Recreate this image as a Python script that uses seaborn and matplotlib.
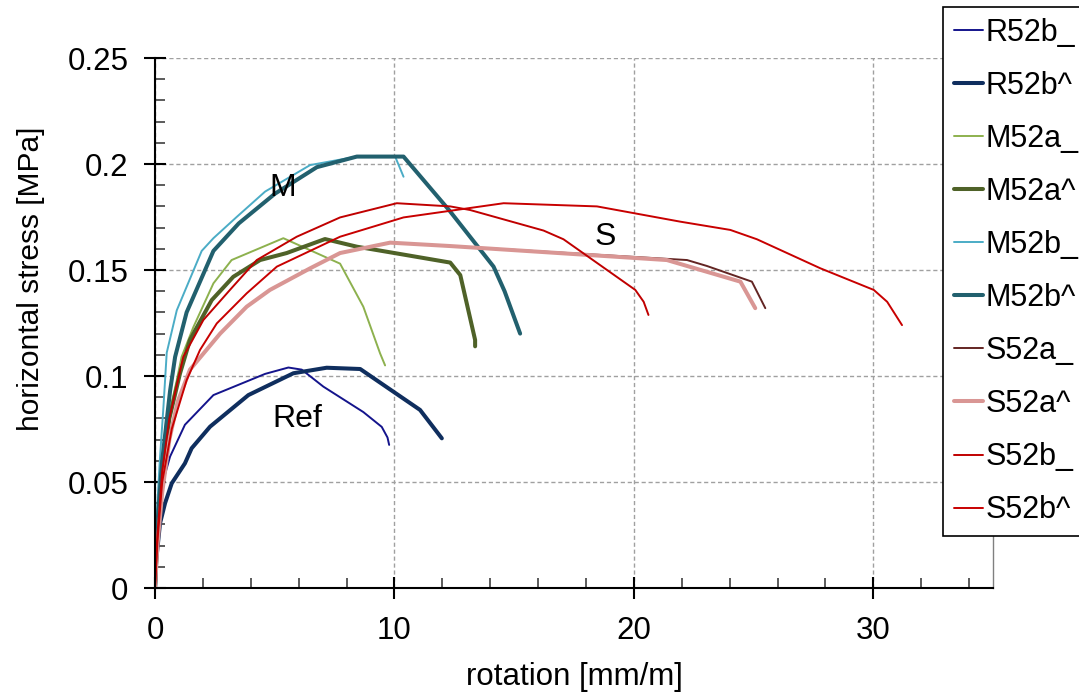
import matplotlib
matplotlib.use("Agg")
import matplotlib.pyplot as plt
from matplotlib.ticker import MultipleLocator
import seaborn as sns
import pandas as pd

# rotation [mm/m] and horizontal stress [MPa] for each test
r52b_lo_x = [0, 0.05, 0.2, 0.63, 1.25, 2.44, 4.6, 5.57, 6.13, 7.03, 8.7, 9.47, 9.71, 9.78]
r52b_lo_y = [0, 0.02, 0.045, 0.062, 0.077, 0.091, 0.101, 0.104, 0.103, 0.095, 0.083, 0.076, 0.071, 0.0675]

r52b_hi_x = [0, 0.05, 0.21, 0.42, 0.7, 1.25, 1.53, 2.3, 3.9, 5.78, 7.17, 8.57, 11.07, 11.98]
r52b_hi_y = [0, 0.013, 0.0305, 0.040, 0.0494, 0.0588, 0.0659, 0.0761, 0.091, 0.1013, 0.1039, 0.1033, 0.084, 0.0706]

m52a_lo_x = [0, 0.1, 0.3, 0.55, 0.91, 1.11, 1.6, 2.44, 3.2, 5.36, 7.73, 8.7, 9.4, 9.61]
m52a_lo_y = [0, 0.03, 0.06, 0.08, 0.098, 0.109, 0.123, 0.1437, 0.1547, 0.165, 0.153, 0.1327, 0.1107, 0.105]

m52a_hi_x = [0, 0.1, 0.3, 0.6, 1.04, 1.46, 2.37, 3.27, 4.39, 5.5, 7.1, 8.43, 10.0, 12.33, 12.75, 13.37, 13.37]
m52a_hi_y = [0, 0.025, 0.055, 0.08, 0.101, 0.117, 0.1358, 0.1468, 0.1547, 0.158, 0.1646, 0.161, 0.158, 0.1535, 0.1476, 0.117, 0.114]

m52b_lo_x = [0, 0.07, 0.2, 0.35, 0.49, 0.91, 1.95, 2.44, 3.41, 4.6, 6.48, 8.43, 10.03, 10.38]
m52b_lo_y = [0, 0.034, 0.06, 0.085, 0.111, 0.131, 0.159, 0.165, 0.175, 0.187, 0.1995, 0.2035, 0.2035, 0.194]

m52b_hi_x = [0, 0.1, 0.3, 0.63, 0.84, 1.32, 2.44, 3.5, 5.01, 6.76, 8.43, 10.38, 12.3, 14.14, 14.6, 15.25]
m52b_hi_y = [0, 0.03, 0.06, 0.093, 0.109, 0.130, 0.159, 0.172, 0.186, 0.1985, 0.2035, 0.2035, 0.178, 0.1516, 0.140, 0.120]

s52a_lo_x = [0, 0.1, 0.3, 0.6, 0.95, 1.46, 2.72, 3.83, 4.8, 6.48, 7.73, 9.82, 12.33, 22.22, 23.05, 24.93, 25.49]
s52a_lo_y = [0, 0.02, 0.045, 0.07, 0.088, 0.103, 0.120, 0.1327, 0.1406, 0.1508, 0.158, 0.1629, 0.1613, 0.1547, 0.1519, 0.1445, 0.132]

s52a_hi_x = [0, 0.1, 0.3, 0.6, 0.95, 1.46, 2.72, 3.83, 4.8, 6.48, 7.73, 9.82, 12.33, 21.38, 24.45, 25.07]
s52a_hi_y = [0, 0.02, 0.045, 0.07, 0.088, 0.103, 0.120, 0.1327, 0.1406, 0.1508, 0.158, 0.1629, 0.1613, 0.1547, 0.1445, 0.132]

s52b_lo_x = [0, 0.1, 0.3, 0.6, 1.18, 2.02, 3.13, 4.25, 5.92, 7.73, 10.1, 12.33, 13.16, 16.23, 17.06, 20.06, 20.41, 20.61]
s52b_lo_y = [0, 0.025, 0.055, 0.08, 0.109, 0.1264, 0.1406, 0.1547, 0.1657, 0.1748, 0.1815, 0.180, 0.1783, 0.1686, 0.1645, 0.1406, 0.135, 0.1288]

s52b_hi_x = [0, 0.1, 0.3, 0.7, 1.32, 1.88, 2.58, 3.83, 5.09, 7.73, 10.38, 14.56, 18.46, 21.94, 24.03, 25.14, 27.79, 30.02, 30.58, 31.2]
s52b_hi_y = [0, 0.022, 0.05, 0.075, 0.098, 0.1123, 0.1248, 0.139, 0.1516, 0.1657, 0.1748, 0.1815, 0.180, 0.1728, 0.1689, 0.1645, 0.1508, 0.1406, 0.135, 0.124]

labels = ["R52b_", "R52b^", "M52a_", "M52a^", "M52b_", "M52b^",
          "S52a_", "S52a^", "S52b_", "S52b^"]
series_x = [r52b_lo_x, r52b_hi_x, m52a_lo_x, m52a_hi_x, m52b_lo_x, m52b_hi_x,
            s52a_lo_x, s52a_hi_x, s52b_lo_x, s52b_hi_x]
series_y = [r52b_lo_y, r52b_hi_y, m52a_lo_y, m52a_hi_y, m52b_lo_y, m52b_hi_y,
            s52a_lo_y, s52a_hi_y, s52b_lo_y, s52b_hi_y]

colors = ["#14148C", "#0F2E5E", "#8DB14E", "#4F6228", "#4BACC6", "#22606E",
          "#632523", "#D99694", "#C00000", "#C80000"]
widths = [1.4, 2.9, 1.4, 2.9, 1.4, 2.9, 1.4, 2.9, 1.4, 1.4]

group_labels = ["M", "S", "Ref"]
group_x = [5.35, 18.8, 5.93]
group_y = [0.1885, 0.1655, 0.0795]

sns.set_theme(style="white")
plt.rcParams["font.family"] = ["Liberation Sans", "DejaVu Sans"]
plt.rcParams["text.color"] = "black"
plt.rcParams["axes.labelcolor"] = "black"
plt.rcParams["xtick.color"] = "black"
plt.rcParams["ytick.color"] = "black"

fig = plt.figure(figsize=(10.79, 6.92), dpi=100)
ax = fig.add_axes([155 / 1079, 104 / 692, 838 / 1079, 530 / 692])

for lab, xs, ys, c, w in zip(labels, series_x, series_y, colors, widths):
    df = pd.DataFrame({"rotation": xs, "stress": ys})
    sns.lineplot(data=df, x="rotation", y="stress", sort=False, estimator=None,
                 color=c, linewidth=w, label=lab, ax=ax)

for t, x, y in zip(group_labels, group_x, group_y):
    ax.text(x, y, t, fontsize=23, ha="center", va="center", color="black")

ax.set_xlim(0, 35)
ax.set_ylim(0, 0.25)
ax.xaxis.set_major_locator(MultipleLocator(10))
ax.xaxis.set_minor_locator(MultipleLocator(2))
ax.yaxis.set_major_locator(MultipleLocator(0.05))
ax.yaxis.set_minor_locator(MultipleLocator(0.01))
ax.set_yticks([0, 0.05, 0.1, 0.15, 0.2, 0.25])
ax.set_yticklabels(["0", "0.05", "0.1", "0.15", "0.2", "0.25"])
ax.set_xticks([0, 10, 20, 30])
ax.set_xticklabels(["0", "10", "20", "30"])

ax.tick_params(axis="both", which="major", direction="inout", length=16, width=1.5,
               color="black", labelsize=22.5, labelcolor="black")
ax.tick_params(axis="x", which="major", pad=12)
ax.tick_params(axis="y", which="major", pad=11)
ax.tick_params(axis="both", which="minor", direction="in", length=7, width=1.2,
               color="#404040")
ax.tick_params(axis="both", which="both", bottom=True, left=True, top=False, right=False)

ax.grid(True, which="major", axis="both", color="#A0A0A0", linestyle=(0, (3, 2)),
        linewidth=1.0)
ax.set_axisbelow(True)

ax.spines["left"].set_color("black")
ax.spines["left"].set_linewidth(1.5)
ax.spines["bottom"].set_color("black")
ax.spines["bottom"].set_linewidth(1.5)
ax.spines["top"].set_visible(False)
ax.spines["right"].set_color("#808080")
ax.spines["right"].set_linewidth(1.0)

ax.set_xlabel("rotation [mm/m]", fontsize=22.5, labelpad=12)
ax.set_ylabel("horizontal stress [MPa]", fontsize=21.5)
ax.yaxis.set_label_coords(-0.131, 0.583)

handles, leg_labels = ax.get_legend_handles_labels()
ax.get_legend().remove()
leg = fig.legend(handles, leg_labels, loc="lower left",
                 bbox_to_anchor=(943 / 1079, 156 / 692), fontsize=22,
                 frameon=True, fancybox=False, shadow=False,
                 handlelength=0.95, handletextpad=0.1, borderpad=0.35,
                 labelspacing=0.755, borderaxespad=0.0)
leg.get_frame().set_edgecolor("black")
leg.get_frame().set_linewidth(1.2)
leg.get_frame().set_facecolor("white")
leg.get_frame().set_alpha(1.0)

fig.savefig("out.png", dpi=100)
